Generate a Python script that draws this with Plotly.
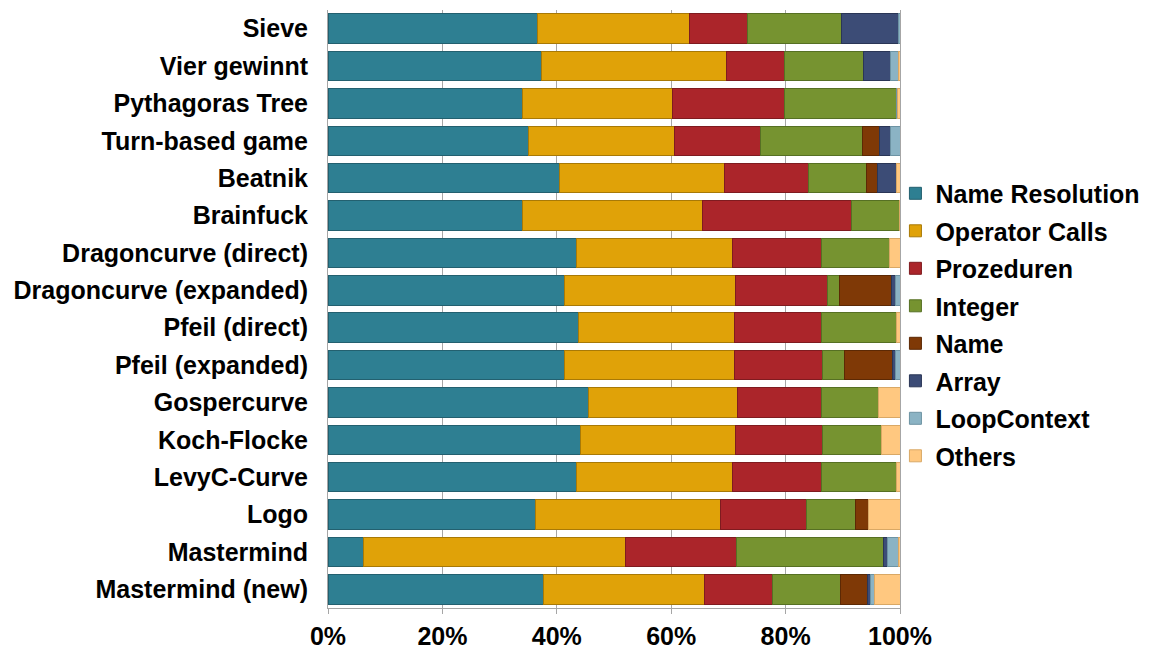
import plotly.graph_objects as go

programs = [
    "Sieve", "Vier gewinnt", "Pythagoras Tree", "Turn-based game", "Beatnik",
    "Brainfuck", "Dragoncurve (direct)", "Dragoncurve (expanded)", "Pfeil (direct)",
    "Pfeil (expanded)", "Gospercurve", "Koch-Flocke", "LevyC-Curve", "Logo",
    "Mastermind", "Mastermind (new)",
]

name_resolution = [36.7, 37.3, 34.0, 35.0, 40.4, 34.0, 43.5, 41.3, 43.8, 41.3, 45.6, 44.2, 43.5, 36.3, 6.2, 37.6]
operator_calls  = [26.6, 32.3, 26.3, 25.5, 28.9, 31.4, 27.3, 30.0, 27.2, 29.8, 26.1, 27.1, 27.3, 32.4, 45.8, 28.3]
prozeduren      = [10.1, 10.2, 19.5, 15.1, 14.7, 26.2, 15.5, 16.1, 15.3, 15.3, 14.6, 15.1, 15.5, 15.0, 19.4, 11.8]
integer         = [16.6, 13.9, 19.5, 17.9, 10.1, 8.3, 11.9, 2.1, 13.0, 3.9, 10.0, 10.4, 13.1, 8.6, 25.8, 11.9]
name            = [0.0, 0.0, 0.0, 3.0, 2.0, 0.0, 0.0, 9.0, 0.0, 8.4, 0.0, 0.0, 0.0, 2.2, 0.0, 4.8]
array           = [10.0, 4.6, 0.0, 1.9, 3.2, 0.0, 0.0, 0.7, 0.0, 0.5, 0.0, 0.0, 0.0, 0.0, 0.7, 0.4]
loop_context    = [0.2, 1.4, 0.2, 1.6, 0.0, 0.0, 0.0, 0.8, 0.0, 0.8, 0.1, 0.0, 0.0, 0.0, 1.8, 0.7]
others          = [0.0, 0.3, 0.5, 0.0, 0.7, 0.1, 1.8, 0.0, 0.7, 0.0, 3.7, 3.2, 0.6, 5.5, 0.3, 4.5]

series = [
    ("Name Resolution", name_resolution, "#2E7F92", "#23606F"),
    ("Operator Calls", operator_calls, "#E0A208", "#A87906"),
    ("Prozeduren", prozeduren, "#AB252A", "#7F1B1F"),
    ("Integer", integer, "#769330", "#567023"),
    ("Name", name, "#7F3906", "#5C2904"),
    ("Array", array, "#3C4C76", "#2A3656"),
    ("LoopContext", loop_context, "#8BB3C4", "#6D93A3"),
    ("Others", others, "#FFC880", "#D9A865"),
]

font_family = "Liberation Sans, Arial, sans-serif"

fig = go.Figure()
for i, (label, values, fill, edge) in enumerate(series):
    fig.add_trace(go.Bar(
        y=programs,
        x=values,
        name=label,
        orientation="h",
        legendgroup=f"g{i}",
        marker=dict(color=fill, line=dict(color=edge, width=1)),
    ))

fig.update_layout(
    width=1149,
    height=653,
    barmode="stack",
    barnorm="percent",
    bargap=0.21,
    plot_bgcolor="white",
    paper_bgcolor="white",
    margin=dict(l=328, r=249, t=10, b=45, autoexpand=False),
    font=dict(family=font_family, size=25, color="black", weight="bold"),
    legend=dict(
        x=0.992, xanchor="left",
        y=0.474, yanchor="middle",
        traceorder="grouped",
        tracegroupgap=2,
        bgcolor="rgba(0,0,0,0)",
        font=dict(family=font_family, size=25, color="black", weight="bold"),
        itemwidth=30,
    ),
    showlegend=True,
)

fig.update_xaxes(
    range=[0, 100],
    tickvals=[0, 20, 40, 60, 80, 100],
    ticktext=["0%", "20%", "40%", "60%", "80%", "100%"],
    showgrid=True,
    gridcolor="#A6A6A6",
    gridwidth=1,
    showline=True,
    linecolor="#A6A6A6",
    linewidth=1,
    ticks="outside",
    ticklen=5,
    tickcolor="#A6A6A6",
    ticklabelstandoff=1,
    tickfont=dict(family=font_family, size=25, color="black", weight="bold"),
    zeroline=False,
    automargin=False,
    fixedrange=True,
)

fig.update_yaxes(
    autorange="reversed",
    showline=True,
    mirror=True,
    linecolor="#A6A6A6",
    linewidth=1,
    showgrid=False,
    ticks="",
    ticklabelstandoff=14,
    tickfont=dict(family=font_family, size=25, color="black", weight="bold"),
    automargin=False,
    fixedrange=True,
)

fig.write_html("out.html")
